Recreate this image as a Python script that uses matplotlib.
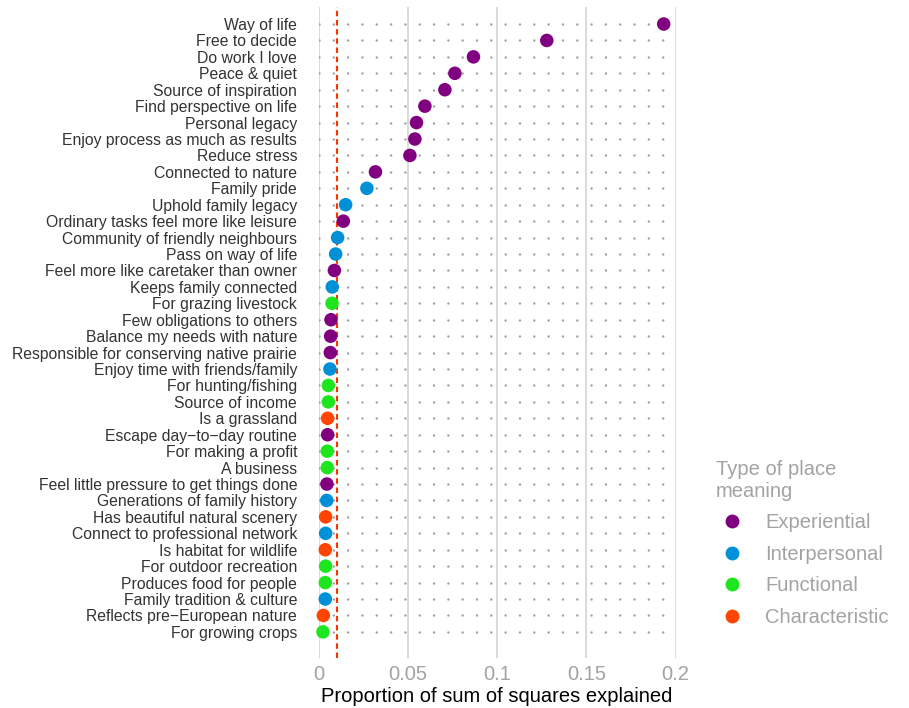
import numpy as np
import matplotlib.pyplot as plt
from matplotlib.lines import Line2D

plt.rcParams["font.family"] = ["Liberation Sans", "DejaVu Sans"]
plt.rcParams["lines.scale_dashes"] = False

# place meanings, ordered top to bottom
meanings = [
    "Way of life", "Free to decide", "Do work I love", "Peace & quiet",
    "Source of inspiration", "Find perspective on life", "Personal legacy",
    "Enjoy process as much as results", "Reduce stress", "Connected to nature",
    "Family pride", "Uphold family legacy", "Ordinary tasks feel more like leisure",
    "Community of friendly neighbours", "Pass on way of life",
    "Feel more like caretaker than owner", "Keeps family connected",
    "For grazing livestock", "Few obligations to others",
    "Balance my needs with nature", "Responsible for conserving native prairie",
    "Enjoy time with friends/family", "For hunting/fishing", "Source of income",
    "Is a grassland", "Escape day\u2212to\u2212day routine", "For making a profit",
    "A business", "Feel little pressure to get things done",
    "Generations of family history", "Has beautiful natural scenery",
    "Connect to professional network", "Is habitat for wildlife",
    "For outdoor recreation", "Produces food for people",
    "Family tradition & culture", "Reflects pre\u2212European nature",
    "For growing crops",
]

prop_ss = [
    0.1933, 0.1278, 0.0867, 0.0763, 0.0707, 0.0595, 0.0548, 0.0539, 0.0511, 0.0318,
    0.0270, 0.0151, 0.0138, 0.0106, 0.0095, 0.0088, 0.0076, 0.0075, 0.0069, 0.0067,
    0.0065, 0.0063, 0.0054, 0.0054, 0.0050, 0.0050, 0.0048, 0.0048, 0.0046, 0.0045,
    0.0039, 0.0039, 0.0037, 0.0039, 0.0037, 0.0037, 0.0026, 0.0024,
]

meaning_type = [
    "Experiential", "Experiential", "Experiential", "Experiential", "Experiential",
    "Experiential", "Experiential", "Experiential", "Experiential", "Experiential",
    "Interpersonal", "Interpersonal", "Experiential", "Interpersonal", "Interpersonal",
    "Experiential", "Interpersonal", "Functional", "Experiential", "Experiential",
    "Experiential", "Interpersonal", "Functional", "Functional", "Characteristic",
    "Experiential", "Functional", "Functional", "Experiential", "Interpersonal",
    "Characteristic", "Interpersonal", "Characteristic", "Functional", "Functional",
    "Interpersonal", "Characteristic", "Functional",
]

type_order = ["Experiential", "Interpersonal", "Functional", "Characteristic"]
type_colors = {
    "Experiential": "#800080",
    "Interpersonal": "#0090D8",
    "Functional": "#1EE61E",
    "Characteristic": "#FF4500",
}

threshold = 0.0101

fig = plt.figure(figsize=(9.09, 7.08), dpi=100)
ax = fig.add_axes([0.3506, 0.0706, 0.3927, 0.9195])

ypos = np.arange(len(meanings))

# light vertical grid
for xv in [0, 0.05, 0.1, 0.15, 0.2]:
    ax.axvline(xv, color="#d4d4d4", lw=1.2, zorder=0)

# dotted row guides
for y in ypos:
    ax.plot([0, 0.2], [y, y], color="#a0a0a0", lw=1.8,
            linestyle=(0, (0.01, 10.3)), dash_capstyle="round", zorder=1)

ax.axvline(threshold, color="#FF3300", lw=1.5, linestyle=(0, (4, 2.6)), zorder=2)

cols = [type_colors[t] for t in meaning_type]
ax.scatter(prop_ss, ypos, s=95, c=cols, edgecolors="none", zorder=3, clip_on=False)

ax.set_xlim(0, 0.2)
ax.set_ylim(38.59, -1.035)
ax.set_yticks(ypos)
ax.set_yticklabels(meanings, fontsize=11.3, color="#333333")
ax.set_xticks([0, 0.05, 0.1, 0.15, 0.2])
ax.set_xticklabels(["0", "0.05", "0.1", "0.15", "0.2"], fontsize=14.5, color="#a3a3a3")
ax.tick_params(axis="y", length=0, pad=15.5)
ax.tick_params(axis="x", length=0, pad=5)
ax.set_xlabel("Proportion of sum of squares explained", fontsize=14.5, color="black", labelpad=2)
for sp in ax.spines.values():
    sp.set_visible(False)

handles = [Line2D([], [], marker="o", linestyle="none", markersize=10,
                  markerfacecolor=type_colors[t], markeredgecolor="none")
           for t in type_order]
leg = fig.legend(handles, type_order, title="Type of place\nmeaning",
                 loc="upper left", bbox_to_anchor=(716 / 909, 1 - 460 / 708),
                 frameon=False, fontsize=14.5, title_fontsize=14.5,
                 labelcolor="#a3a3a3", alignment="left", handletextpad=0.85,
                 labelspacing=0.62, borderpad=0, borderaxespad=0, handlelength=1.6)
leg.get_title().set_color("#a3a3a3")

fig.savefig("out.png", dpi=100)
